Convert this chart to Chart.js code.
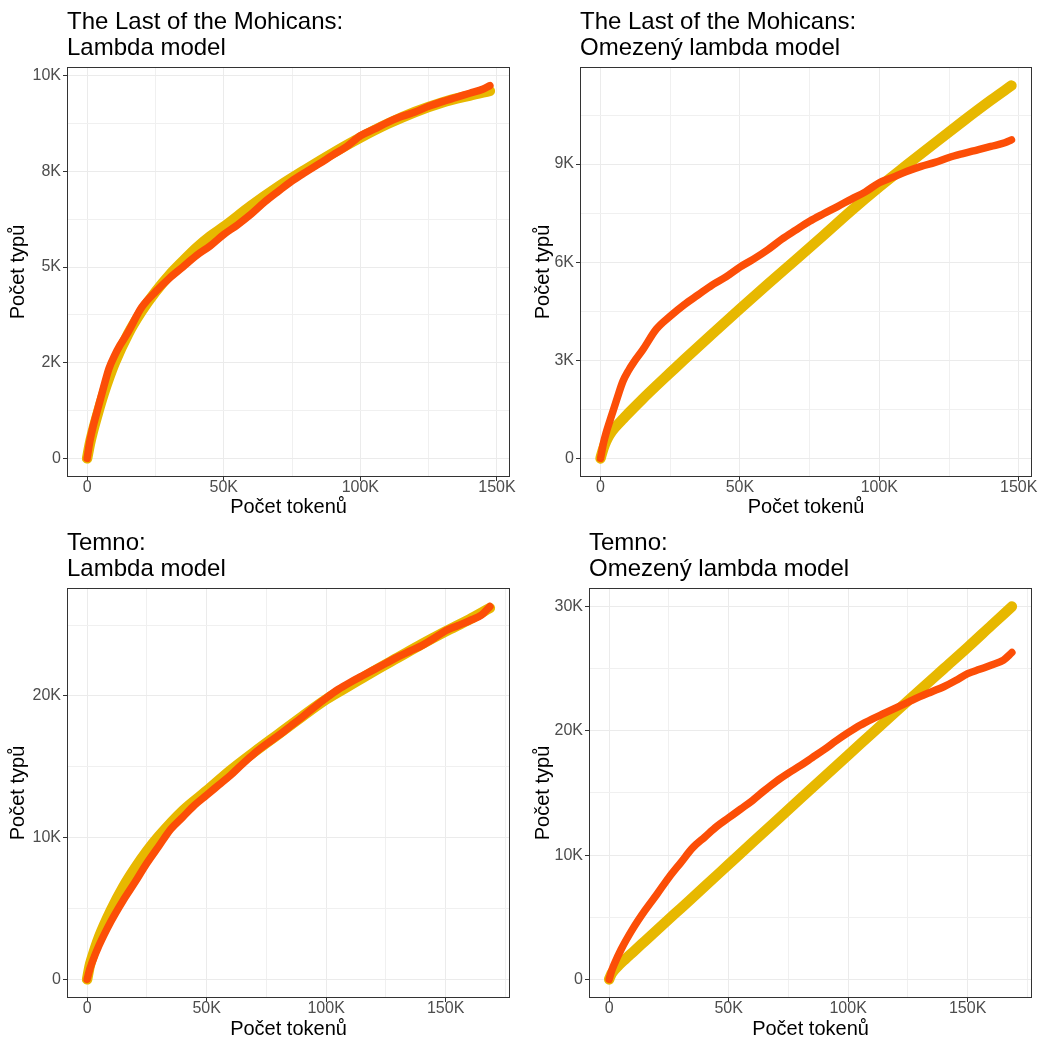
<!DOCTYPE html>
<html>
<head>
<meta charset="utf-8">
<script src="https://cdn.jsdelivr.net/npm/chart.js@4"></script>
<style>
  html, body { margin: 0; padding: 0; background: #fff; }
  #wrap { position: relative; width: 1051px; height: 1043px; }
  canvas { position: absolute; }
</style>
</head>
<body>
<div id="wrap">
  <canvas id="c1" width="525" height="521" style="left:0;top:0"></canvas>
  <canvas id="c2" width="526" height="521" style="left:525px;top:0"></canvas>
  <canvas id="c3" width="525" height="522" style="left:0;top:521px"></canvas>
  <canvas id="c4" width="526" height="522" style="left:525px;top:521px"></canvas>
</div>
<script>
const FONT = '"Liberation Sans", Arial, sans-serif';

// The Last of the Mohicans – observed vocabulary growth
const mohTokens = [0, 1000, 2000, 4000, 6000, 8000, 10000, 12000, 15000, 20000, 25000, 30000, 35000, 40000, 45000, 50000, 55000, 60000, 65000, 70000, 75000, 80000, 85000, 90000, 95000, 100000, 105000, 110000, 115000, 120000, 125000, 130000, 135000, 140000, 145000, 147400];
const mohTypes = [0, 450, 780, 1320, 1850, 2350, 2680, 2950, 3300, 3950, 4350, 4700, 5000, 5300, 5550, 5850, 6100, 6380, 6700, 6980, 7250, 7480, 7700, 7930, 8150, 8430, 8600, 8780, 8930, 9050, 9200, 9320, 9430, 9540, 9650, 9740];

// Lambda model fit
const mohLambdaTokens = [0, 1000, 2000, 4000, 6000, 8000, 10000, 15000, 20000, 25000, 30000, 35000, 40000, 45000, 50000, 60000, 70000, 80000, 90000, 100000, 110000, 120000, 130000, 140000, 147400];
const mohLambdaTypes = [0, 380, 680, 1200, 1680, 2100, 2480, 3250, 3850, 4350, 4780, 5150, 5500, 5800, 6050, 6600, 7100, 7550, 7980, 8380, 8740, 9050, 9300, 9480, 9600];

// Omezený lambda model fit
const mohBoundedTokens = [0, 1000, 2000, 3000, 4000, 6000, 8000, 10000, 15000, 20000, 25000, 30000, 40000, 50000, 60000, 70000, 80000, 90000, 100000, 110000, 120000, 130000, 140000, 147400];
const mohBoundedTypes = [0, 300, 520, 690, 820, 1020, 1200, 1380, 1810, 2220, 2620, 3020, 3800, 4570, 5330, 6070, 6820, 7580, 8300, 8980, 9650, 10310, 10950, 11400];

// Temno – observed vocabulary growth
const temTokens = [0, 1000, 2000, 5000, 10000, 15000, 20000, 25000, 30000, 35000, 40000, 45000, 50000, 55000, 60000, 65000, 70000, 75000, 80000, 85000, 90000, 95000, 100000, 105000, 110000, 115000, 120000, 125000, 130000, 135000, 140000, 145000, 150000, 155000, 160000, 165000, 168500];
const temTypes = [0, 650, 1150, 2400, 4100, 5550, 6850, 8200, 9400, 10600, 11450, 12300, 13000, 13700, 14400, 15200, 15950, 16600, 17200, 17850, 18500, 19200, 19850, 20450, 20950, 21400, 21850, 22300, 22750, 23150, 23550, 24050, 24600, 24950, 25300, 25700, 26300];

const temLambdaTokens = [0, 1000, 2000, 5000, 10000, 15000, 20000, 25000, 30000, 40000, 50000, 60000, 70000, 80000, 90000, 100000, 110000, 120000, 130000, 140000, 150000, 160000, 168500];
const temLambdaTypes = [0, 900, 1500, 3000, 4900, 6500, 7850, 9050, 10100, 11900, 13300, 14750, 16050, 17300, 18550, 19750, 20750, 21750, 22700, 23650, 24550, 25400, 26200];

const temBoundedTokens = [0, 1000, 2000, 4000, 6000, 8000, 10000, 15000, 20000, 30000, 40000, 50000, 60000, 70000, 80000, 90000, 100000, 110000, 120000, 130000, 140000, 150000, 160000, 168500];
const temBoundedTypes = [0, 450, 720, 1130, 1500, 1850, 2200, 3080, 3960, 5720, 7480, 9250, 11020, 12780, 14540, 16300, 18050, 19800, 21550, 23280, 25000, 26720, 28500, 30000];

// axis breaks
const xMajor = [0, 50000, 100000, 150000];
const xLabels = ["0", "50K", "100K", "150K"];
const xMinorMoh = [25000, 75000, 125000];
const xMinorTem = [25000, 75000, 125000, 175000];

const yMajorMohLambda = [0, 2500, 5000, 7500, 10000];
const yLabelsMohLambda = ["0", "2K", "5K", "8K", "10K"];
const yMinorMohLambda = [1250, 3750, 6250, 8750];

const yMajorMohBounded = [0, 3000, 6000, 9000];
const yLabelsMohBounded = ["0", "3K", "6K", "9K"];
const yMinorMohBounded = [1500, 4500, 7500, 10500];

const yMajorTemLambda = [0, 10000, 20000];
const yLabelsTemLambda = ["0", "10K", "20K"];
const yMinorTemLambda = [5000, 15000, 25000];

const yMajorTemBounded = [0, 10000, 20000, 30000];
const yLabelsTemBounded = ["0", "10K", "20K", "30K"];
const yMinorTemBounded = [5000, 15000, 25000];

const RED = "#FC4E07";
const YELLOW = "#E7B800";

const panelBorder = {
    id: "panelBorder",
    afterDraw(chart) {
        const { ctx, chartArea: a } = chart;
        ctx.save();
        ctx.strokeStyle = "#333333";
        ctx.lineWidth = 1;
        ctx.strokeRect(Math.round(a.left) + 0.5, Math.round(a.top) + 0.5,
            Math.round(a.right - a.left) - 1, Math.round(a.bottom - a.top) - 1);
        ctx.restore();
    },
};

function toPoints(xs, ys) {
    return xs.map((x, i) => ({ x, y: ys[i] }));
}

function expanded(arrays) {
    const all = [].concat(...arrays);
    const lo = Math.min(...all);
    const hi = Math.max(...all);
    const pad = (hi - lo) * 0.05;
    return [lo - pad, hi + pad];
}

function axis(major, minor, labels, range, tickPadding, extra) {
    const isMajor = (c) => c.tick && major.includes(c.tick.value);

    return Object.assign({
        type: "linear",
        min: range[0],
        max: range[1],
        afterBuildTicks(scale) {
            scale.ticks = major.concat(minor).sort((a, b) => a - b).map((value) => ({ value }));
        },
        ticks: {
            autoSkip: false,
            maxRotation: 0,
            padding: tickPadding,
            color: "#4D4D4D",
            font: { family: FONT, size: 16 },
            callback(value) {
                const i = major.indexOf(value);

                return i >= 0 ? labels[i] : "";
            },
        },
        grid: {
            color: (c) => (isMajor(c) ? "#EBEBEB" : "#F0F0F0"),
            lineWidth: 1,
            tickColor: (c) => (isMajor(c) ? "#333333" : "rgba(0,0,0,0)"),
            tickWidth: 1,
            tickLength: 4,
        },
        border: { display: false },
    }, extra);
}

function makePanel(id, opts) {
    const xRange = expanded([opts.model.tokens, opts.observed.tokens]);
    const yRange = expanded([opts.model.types, opts.observed.types]);

    new Chart(document.getElementById(id), {
        type: "line",
        data: {
            datasets: [
                {
                    data: toPoints(opts.observed.tokens, opts.observed.types),
                    borderColor: RED,
                    borderWidth: 7.5,
                    order: 0,
                },
                {
                    data: toPoints(opts.model.tokens, opts.model.types),
                    borderColor: YELLOW,
                    borderWidth: 10.5,
                    order: 1,
                },
            ],
        },
        options: {
            responsive: false,
            animation: false,
            devicePixelRatio: 1,
            layout: { padding: { left: 0, right: opts.padRight, top: 0, bottom: 0 } },
            elements: {
                point: { radius: 0 },
                line: {
                    cubicInterpolationMode: "monotone",
                    borderCapStyle: "round",
                    borderJoinStyle: "round",
                    fill: false,
                },
            },
            plugins: {
                legend: { display: false },
                tooltip: { enabled: false },
                title: {
                    display: true,
                    text: opts.title,
                    align: "start",
                    fullSize: false,
                    color: "#000000",
                    font: { family: FONT, size: 24, weight: "normal", lineHeight: 1.07 },
                    padding: { top: 10, bottom: 5.6 },
                },
            },
            scales: {
                x: axis(xMajor, opts.xMinor, xLabels, xRange, -3, {
                    afterFit(scale) { scale.height = opts.xHeight; },
                    title: {
                        display: true,
                        text: "Počet tokenů",
                        color: "#000000",
                        font: { family: FONT, size: 20 },
                        padding: { top: 0, bottom: 2 },
                    },
                }),
                y: axis(opts.yMajor, opts.yMinor, opts.yLabels, yRange, 2, {
                    afterFit(scale) { scale.width = opts.yWidth; },
                    title: {
                        display: true,
                        text: "Počet typů",
                        color: "#000000",
                        font: { family: FONT, size: 20 },
                        padding: { top: 6, bottom: 0 },
                    },
                }),
            },
        },
        plugins: [panelBorder],
    });
}

makePanel("c1", {
    title: ["The Last of the Mohicans:", "Lambda model"],
    observed: { tokens: mohTokens, types: mohTypes },
    model: { tokens: mohLambdaTokens, types: mohLambdaTypes },
    xMinor: xMinorMoh,
    yMajor: yMajorMohLambda, yMinor: yMinorMohLambda, yLabels: yLabelsMohLambda,
    yWidth: 67, xHeight: 44, padRight: 15,
});

makePanel("c2", {
    title: ["The Last of the Mohicans:", "Omezený lambda model"],
    observed: { tokens: mohTokens, types: mohTypes },
    model: { tokens: mohBoundedTokens, types: mohBoundedTypes },
    xMinor: xMinorMoh,
    yMajor: yMajorMohBounded, yMinor: yMinorMohBounded, yLabels: yLabelsMohBounded,
    yWidth: 55, xHeight: 44, padRight: 19,
});

makePanel("c3", {
    title: ["Temno:", "Lambda model"],
    observed: { tokens: temTokens, types: temTypes },
    model: { tokens: temLambdaTokens, types: temLambdaTypes },
    xMinor: xMinorTem,
    yMajor: yMajorTemLambda, yMinor: yMinorTemLambda, yLabels: yLabelsTemLambda,
    yWidth: 67, xHeight: 45, padRight: 15,
});

makePanel("c4", {
    title: ["Temno:", "Omezený lambda model"],
    observed: { tokens: temTokens, types: temTypes },
    model: { tokens: temBoundedTokens, types: temBoundedTypes },
    xMinor: xMinorTem,
    yMajor: yMajorTemBounded, yMinor: yMinorTemBounded, yLabels: yLabelsTemBounded,
    yWidth: 64, xHeight: 45, padRight: 19,
});
</script>
</body>
</html>
